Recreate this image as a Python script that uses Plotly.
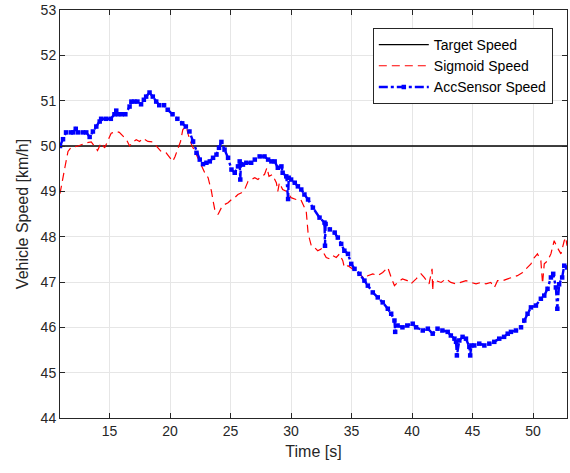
import plotly.graph_objects as go

# ---- data ----
target_t = [10.9, 52.8]
target_v = [50.0, 50.0]

acc_t = [10.9, 11.15, 11.4, 11.8, 12.0, 12.2, 12.4, 12.8, 13.07, 13.35, 13.62, 13.9, 14.18,
         14.3, 14.7, 15.1, 15.4, 15.55, 15.7, 16.0, 16.3, 16.65, 16.8, 17.05, 17.3, 17.6,
         17.83, 18.02, 18.3, 18.57, 18.85, 19.1, 19.5, 19.8, 20.2, 20.6, 21.0, 21.3, 21.6,
         21.9, 22.18, 22.45, 22.72, 23.0, 23.28, 23.55, 23.83, 24.04, 24.24, 24.5, 24.79,
         25.07, 25.34, 25.61, 25.75, 25.8, 25.85, 26.02, 26.3, 26.7, 27.0, 27.4, 27.8, 28.1,
         28.37, 28.64, 28.9, 29.2, 29.3, 29.6, 29.75, 29.8, 30.0, 30.3, 30.56, 30.84, 31.1,
         31.4, 31.8, 32.35, 32.76, 32.8, 32.85, 33.2, 33.6, 33.86, 34.14, 34.4, 34.7, 34.97,
         35.24, 35.65, 36.06, 36.34, 36.75, 37.16, 37.57, 37.99, 38.27, 38.54, 38.6, 38.8,
         39.2, 39.6, 40.05, 40.33, 40.88, 41.3, 41.7, 42.1, 42.5, 42.94, 43.2, 43.5, 43.63,
         43.7, 43.9, 44.17, 44.45, 44.73, 44.8, 44.9, 45.14, 45.55, 45.97, 46.38, 46.79,
         47.2, 47.6, 47.9, 48.17, 48.58, 49.0, 49.27, 49.54, 49.82, 50.23, 50.64, 50.92,
         51.19, 51.47, 51.66, 51.88, 52.0, 52.15, 52.4, 52.57, 52.8]
acc_v = [50.0, 50.15, 50.3, 50.3, 50.3, 50.38, 50.3, 50.3, 50.3, 50.2, 50.32, 50.43, 50.54,
         50.6, 50.6, 50.6, 50.7, 50.78, 50.7, 50.7, 50.7, 50.87, 50.98, 50.98, 50.98, 50.92,
         51.02, 51.09, 51.18, 51.09, 50.98, 50.9, 50.9, 50.8, 50.7, 50.6, 50.5, 50.43, 50.32,
         50.1, 49.85, 49.7, 49.6, 49.63, 49.66, 49.74, 49.81, 49.96, 50.09, 49.92, 49.74,
         49.48, 49.41, 49.55, 49.66, 49.26, 49.6, 49.59, 49.63, 49.63, 49.7, 49.77, 49.77,
         49.7, 49.66, 49.66, 49.52, 49.55, 49.41, 49.33, 48.83, 49.3, 49.26, 49.19, 49.11,
         49.04, 48.93, 48.82, 48.64, 48.42, 48.31, 47.8, 48.28, 48.16, 48.09, 47.98, 47.84,
         47.69, 47.62, 47.4, 47.29, 47.18, 47.03, 46.92, 46.77, 46.66, 46.55, 46.41, 46.3,
         46.15, 45.9, 46.04, 46.0, 46.04, 46.08, 46.0, 45.93, 45.97, 45.86, 45.97, 45.93,
         45.9, 45.82, 45.75, 45.68, 45.38, 45.71, 45.79, 45.75, 45.57, 45.38, 45.6, 45.6,
         45.64, 45.6, 45.64, 45.68, 45.75, 45.79, 45.86, 45.9, 45.93, 46.0, 46.15, 46.3,
         46.44, 46.48, 46.63, 46.7, 46.85, 47.1, 47.18, 46.88, 46.41, 46.95, 47.1, 47.36,
         47.32]

sig_t = [10.9, 11.0, 11.3, 11.56, 11.83, 12.4, 13.07, 13.48, 13.76, 14.0, 14.3, 14.59,
         15.13, 15.55, 15.8, 16.1, 16.4, 16.65, 16.92, 17.2, 17.48, 17.75, 18.16, 18.57,
         18.99, 19.26, 19.67, 19.95, 20.22, 20.41, 20.64, 20.86, 21.05, 21.33, 21.5, 21.77,
         22.1, 22.5, 22.86, 23.14, 23.42, 23.55, 23.69, 23.96, 24.24, 24.51, 24.79, 25.07,
         25.34, 25.6, 25.9, 26.16, 26.44, 26.7, 27.0, 27.26, 27.54, 27.8, 28.0, 28.17, 28.45,
         28.78, 28.9, 29.03, 29.3, 29.6, 30.0, 30.4, 30.8, 31.25, 31.3, 31.4, 31.53, 31.67,
         31.94, 32.2, 32.5, 32.9, 33.18, 33.45, 33.73, 34.0, 34.27, 34.4, 34.7, 35.24, 35.65,
         36.06, 36.34, 36.75, 37.16, 37.57, 37.99, 38.27, 38.54, 38.8, 39.2, 39.6, 39.9,
         40.33, 40.74, 41.0, 41.4, 41.65, 41.7, 41.75, 42.0, 42.4, 42.8, 43.2, 43.63, 44.04,
         44.45, 44.87, 45.28, 45.7, 46.1, 46.5, 46.8, 47.06, 47.5, 47.9, 48.3, 48.7, 49.13,
         49.54, 49.82, 50.1, 50.36, 50.64, 50.78, 50.92, 51.2, 51.47, 51.74, 52.0, 52.3,
         52.57, 52.7, 52.8]
sig_v = [48.95, 49.11, 49.52, 49.88, 49.97, 50.0, 50.07, 50.09, 50.0, 49.9, 50.07, 49.96,
         50.28, 50.32, 50.3, 50.21, 50.14, 50.0, 50.09, 50.14, 50.1, 50.17, 50.1, 50.09,
         49.96, 49.88, 49.85, 49.74, 49.66, 49.77, 49.92, 50.1, 50.36, 50.43, 50.25, 50.03,
         49.85, 49.6, 49.41, 49.3, 49.0, 48.79, 48.6, 48.49, 48.64, 48.71, 48.75, 48.82,
         48.86, 48.93, 48.97, 49.04, 49.22, 49.26, 49.3, 49.26, 49.33, 49.37, 49.52, 49.33,
         49.37, 49.19, 49.0, 49.19, 49.04, 49.0, 48.86, 48.82, 48.82, 48.56, 48.35, 48.09,
         47.94, 47.8, 47.76, 47.69, 47.73, 47.54, 47.51, 47.58, 47.54, 47.62, 47.47, 47.32,
         47.36, 47.25, 47.18, 47.07, 47.14, 47.18, 47.14, 47.21, 47.32, 47.1, 46.92, 46.99,
         47.07, 47.03, 46.96, 47.07, 47.18, 47.1, 46.96, 47.29, 46.81, 47.05, 47.03, 46.99,
         47.07, 46.99, 46.96, 46.99, 47.03, 46.99, 46.96, 46.99, 46.96, 46.99, 46.88, 47.03,
         47.03, 47.07, 47.1, 47.14, 47.21, 47.32, 47.4, 47.54, 47.62, 47.47, 46.96, 47.4,
         47.47, 47.62, 47.91, 47.76, 47.62, 47.91, 47.98, 47.8]

x_ticks = [15, 20, 25, 30, 35, 40, 45, 50]
y_ticks = [44, 45, 46, 47, 48, 49, 50, 51, 52, 53]

FONT = "Liberation Sans, Arial, sans-serif"

fig = go.Figure()
fig.add_trace(go.Scatter(x=target_t, y=target_v, mode="lines", name="Target Speed",
                         line=dict(color="#000000", width=1.3)))
fig.add_trace(go.Scatter(x=sig_t, y=sig_v, mode="lines", name="Sigmoid Speed",
                         line=dict(color="#ff0000", width=1.2, dash="8px,5px")))
fig.add_trace(go.Scatter(x=acc_t, y=acc_v, mode="lines+markers", name="AccSensor Speed",
                         line=dict(color="#0000ff", width=2.4, dash="dashdot"),
                         marker=dict(symbol="square", size=4.5, color="#0000ff")))

axis_common = dict(
    showline=True, linecolor="#262626", linewidth=1, mirror="ticks",
    ticks="inside", ticklen=5, tickcolor="#262626",
    showgrid=True, gridcolor="#e6e6e6", gridwidth=1, zeroline=False,
    tickfont=dict(family=FONT, size=14, color="#262626"),
    ticklabeloverflow="allow",
)

fig.update_layout(
    width=570, height=473,
    margin=dict(l=60, r=2, t=8, b=55),
    paper_bgcolor="white", plot_bgcolor="white",
    font=dict(family=FONT, color="#262626"),
    xaxis=dict(range=[10.9, 52.8], tickvals=x_ticks,
               title=dict(text="Time [s]", font=dict(family=FONT, size=16, color="#262626"), standoff=8),
               **axis_common),
    yaxis=dict(range=[44, 53], tickvals=y_ticks,
               title=dict(text="Vehicle Speed [km/h]", font=dict(family=FONT, size=16, color="#262626"), standoff=8),
               **axis_common),
    legend=dict(x=0.972, y=0.956, xanchor="right", yanchor="top",
                bgcolor="white", bordercolor="#262626", borderwidth=1,
                font=dict(family=FONT, size=14, color="#000000"),
                itemwidth=50, tracegroupgap=0),
    showlegend=True,
)

fig.write_html("out.html")
